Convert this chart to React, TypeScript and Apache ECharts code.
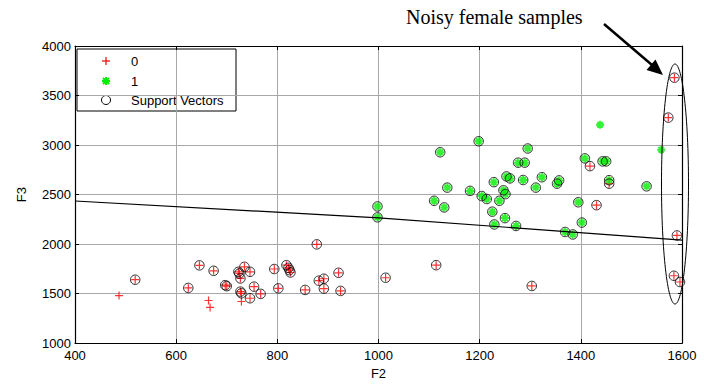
import React, { useEffect, useRef } from "react";
import * as echarts from "echarts";

// Formant measurements (F2, F3) for the two classes
const class0Support: [number, number][] = [
  [519, 1640], [624, 1557], [646, 1785], [674, 1730], [697, 1585], [700, 1575],
  [723, 1720], [725, 1703], [735, 1770], [746, 1720], [727, 1653], [727, 1520],
  [729, 1503], [746, 1453], [754, 1570], [767, 1497], [794, 1748], [802, 1553],
  [818, 1787], [822, 1760], [824, 1737], [826, 1713], [855, 1537], [878, 1997],
  [882, 1630], [892, 1650], [892, 1550], [921, 1710], [925, 1527], [1014, 1660],
  [1114, 1787], [1303, 1577], [1418, 2787], [1431, 2393], [1456, 2610],
  [1585, 3680], [1573, 3277], [1590, 2087], [1584, 1680], [1596, 1617],
];
const class0Plain: [number, number][] = [
  [487, 1480], [664, 1430], [667, 1360], [729, 1420],
];
const class1Support: [number, number][] = [
  [998, 2380], [998, 2270], [1122, 2927], [1136, 2570], [1110, 2437], [1130, 2370],
  [1198, 3038], [1181, 2537], [1204, 2485], [1214, 2455], [1239, 2437], [1228, 2625],
  [1247, 2543], [1251, 2505], [1253, 2683], [1260, 2663], [1225, 2327], [1250, 2262],
  [1229, 2198], [1272, 2183], [1276, 2822], [1289, 2822], [1286, 2647], [1295, 2965],
  [1311, 2570], [1323, 2675], [1353, 2610], [1357, 2643], [1408, 2865], [1443, 2835],
  [1450, 2835], [1456, 2645], [1530, 2583], [1395, 2422], [1402, 2217], [1369, 2122],
  [1384, 2097],
];
const class1Plain: [number, number][] = [
  [1438, 3205], [1559, 2953],
];

// Separating boundary of the classifier
const boundaryF2 = [400, 1000, 1600];
const boundaryF3 = [2435, 2265, 2040];

const legendLabels = ["0", "1", "Support Vectors"];
const noteText = "Noisy female samples";

const RED = "#ff0000";
const GREEN = "#00ee00";
const FONT = "'Liberation Sans', Arial, sans-serif";
const SERIF = "'Liberation Serif', 'Times New Roman', serif";

const plusSymbol = "path://M0,5L10,5M5,0L5,10";
const starSymbol = "path://M5,0L5,10M0,5L10,5M1.5,1.5L8.5,8.5M8.5,1.5L1.5,8.5";

export default function App() {
  const ref = useRef<HTMLDivElement>(null);

  useEffect(() => {
    if (!ref.current) return;
    const chart = echarts.init(ref.current, undefined, { renderer: "svg" });

    const axisCommon = {
      axisLine: { show: true, onZero: false, lineStyle: { color: "#000", width: 1.2 } },
      axisTick: { show: true, inside: true, length: 4, lineStyle: { color: "#000" } },
    };

    const xBase = { ...axisCommon, min: 400, max: 1600, interval: 200 };
    const yBase = { ...axisCommon, min: 1000, max: 4000, interval: 500 };
    const plain = (v: number) => String(v);

    const legendRows = [61, 81, 100];

    chart.setOption({
      animation: false,
      backgroundColor: "#fff",
      textStyle: { fontFamily: FONT },
      grid: { left: 75, right: 22, top: 46, bottom: 38 },
      xAxis: [
        {
          ...xBase,
          type: "value",
          position: "bottom",
          name: "F2",
          nameLocation: "middle",
          nameGap: 23,
          nameTextStyle: { color: "#000", fontSize: 13, fontFamily: FONT },
          axisLabel: { color: "#000", fontSize: 13, margin: 6, fontFamily: FONT, formatter: plain },
          splitLine: { show: true, lineStyle: { color: "#a8a8a8", width: 1 } },
        },
        {
          ...xBase,
          type: "value",
          position: "top",
          axisLabel: { show: false },
          splitLine: { show: false },
        },
      ],
      yAxis: [
        {
          ...yBase,
          type: "value",
          position: "left",
          name: "F3",
          nameLocation: "middle",
          nameGap: 47,
          nameTextStyle: { color: "#000", fontSize: 13, fontFamily: FONT },
          axisLabel: { color: "#000", fontSize: 13, margin: 4, fontFamily: FONT, formatter: plain },
          splitLine: { show: true, lineStyle: { color: "#a8a8a8", width: 1 } },
        },
        {
          ...yBase,
          type: "value",
          position: "right",
          axisLabel: { show: false },
          splitLine: { show: false },
        },
      ],
      series: [
        {
          name: legendLabels[0],
          type: "scatter",
          data: [...class0Support, ...class0Plain],
          symbol: plusSymbol,
          symbolSize: 8,
          itemStyle: { color: "none", borderColor: RED, borderWidth: 1.2 },
          z: 2,
        },
        {
          name: legendLabels[1],
          type: "scatter",
          data: [...class1Support, ...class1Plain],
          symbol: starSymbol,
          symbolSize: 8,
          itemStyle: { color: "none", borderColor: GREEN, borderWidth: 2 },
          z: 2,
        },
        {
          name: legendLabels[2],
          type: "scatter",
          data: [...class0Support, ...class1Support],
          symbol: "circle",
          symbolSize: 9.5,
          itemStyle: { color: "none", borderColor: "#000", borderWidth: 1 },
          z: 3,
        },
        {
          name: "boundary",
          type: "line",
          data: boundaryF2.map((x, i) => [x, boundaryF3[i]]),
          showSymbol: false,
          symbol: "none",
          lineStyle: { color: "#000", width: 1.2 },
          z: 4,
        },
      ],
      graphic: [
        {
          type: "group",
          z: 100,
          children: [
            {
              type: "rect",
              shape: { x: 77, y: 49, width: 159, height: 62 },
              style: { fill: "#fff", stroke: "#000", lineWidth: 1 },
            },
            {
              type: "line",
              shape: { x1: 102, y1: legendRows[0], x2: 110, y2: legendRows[0] },
              style: { stroke: RED, lineWidth: 1.2 },
            },
            {
              type: "line",
              shape: { x1: 106, y1: legendRows[0] - 4, x2: 106, y2: legendRows[0] + 4 },
              style: { stroke: RED, lineWidth: 1.2 },
            },
            ...[
              [0, -4, 0, 4],
              [-4, 0, 4, 0],
              [-3, -3, 3, 3],
              [3, -3, -3, 3],
            ].map(([a, b, c, d]) => ({
              type: "line",
              shape: { x1: 106 + a, y1: legendRows[1] + b, x2: 106 + c, y2: legendRows[1] + d },
              style: { stroke: GREEN, lineWidth: 2 },
            })),
            {
              type: "circle",
              shape: { cx: 106, cy: legendRows[2], r: 4.5 },
              style: { fill: "none", stroke: "#000", lineWidth: 1 },
            },
            ...legendLabels.map((label, i) => ({
              type: "text",
              x: 131,
              y: legendRows[i],
              style: {
                text: label,
                fill: "#000",
                font: `13px ${FONT}`,
                verticalAlign: "middle",
                align: "left",
              },
            })),
          ],
        },
        {
          type: "text",
          z: 100,
          x: 406,
          y: 17,
          style: {
            text: noteText,
            fill: "#000",
            font: `20px ${SERIF}`,
            verticalAlign: "middle",
            align: "left",
          },
        },
        {
          type: "line",
          z: 100,
          shape: { x1: 604, y1: 24, x2: 652, y2: 65 },
          style: { stroke: "#000", lineWidth: 2.5 },
        },
        {
          type: "polygon",
          z: 100,
          shape: { points: [[663, 75], [646.5, 70], [655.5, 59.5]] },
          style: { fill: "#000" },
        },
        {
          type: "ellipse",
          z: 100,
          shape: { cx: 675, cy: 184, rx: 13.5, ry: 120 },
          style: { fill: "none", stroke: "#000", lineWidth: 1 },
        },
      ],
    });

    return () => chart.dispose();
  }, []);

  return (
    <div
      ref={ref}
      style={{ position: "fixed", left: 0, top: 0, width: 704, height: 385 }}
    />
  );
}
